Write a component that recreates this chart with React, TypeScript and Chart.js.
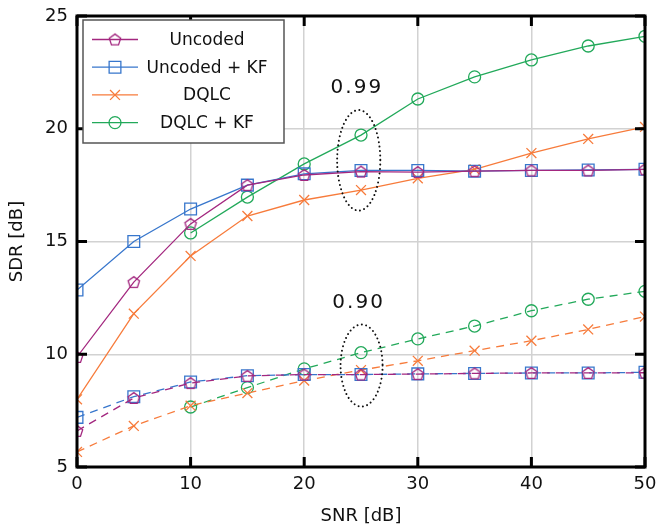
import { useEffect, useRef } from "react";
import { Chart, registerables } from "chart.js";

Chart.register(...registerables);

// ---- data ----
const SNR = [0, 5, 10, 15, 20, 25, 30, 35, 40, 45, 50];
const SERIES_LABELS = ["Uncoded", "Uncoded + KF", "DQLC", "DQLC + KF"];

// rho = 0.99 (solid)
const UNCODED_099 = [9.88, 13.2, 15.78, 17.5, 17.95, 18.1, 18.08, 18.12, 18.15, 18.15, 18.2];
const UNCODED_KF_099 = [12.85, 15.0, 16.44, 17.5, 18.0, 18.15, 18.15, 18.12, 18.15, 18.17, 18.2];
const DQLC_099 = [8.0, 11.8, 14.36, 16.13, 16.84, 17.28, 17.8, 18.2, 18.92, 19.55, 20.08];
const DQLC_KF_099 = [null, null, 15.38, 16.97, 18.44, 19.72, 21.32, 22.3, 23.05, 23.67, 24.1];

// rho = 0.90 (dashed)
const UNCODED_090 = [6.6, 8.06, 8.72, 9.04, 9.1, 9.1, 9.12, 9.15, 9.17, 9.17, 9.18];
const UNCODED_KF_090 = [7.2, 8.12, 8.77, 9.05, 9.1, 9.1, 9.13, 9.15, 9.17, 9.17, 9.2];
const DQLC_090 = [5.67, 6.82, 7.72, 8.28, 8.83, 9.3, 9.71, 10.16, 10.6, 11.1, 11.67];
const DQLC_KF_090 = [null, null, 7.66, 8.52, 9.35, 10.07, 10.68, 11.25, 11.93, 12.44, 12.79];

const X_TICKS = [0, 10, 20, 30, 40, 50];
const Y_TICKS = [5, 10, 15, 20, 25];

// annotation groups: ellipse centre / radii in data units, and label text
const GROUP_LABELS = ["0.99", "0.90"];
const GROUP_CX = [24.8, 25.05];
const GROUP_CY = [18.6, 9.5];
const GROUP_RX = [1.9, 1.85];
const GROUP_RY = [2.23, 1.82];
const GROUP_LABEL_X = [24.55, 24.7];
const GROUP_LABEL_Y = [21.8, 12.27];

// ---- styles ----
const COLORS = ["#A3277F", "#3776CC", "#F77B3B", "#22A95A"];
const STYLES = ["pentagon", "rect", "crossRot", "circle"];
const RADII = [6, 8.3, 7, 6];
const FONT = "'DejaVu Sans', sans-serif";
const TEXT = "#111";

function makePentagon(color: string): HTMLCanvasElement {
  const c = document.createElement("canvas");
  c.width = 16;
  c.height = 16;
  const g = c.getContext("2d")!;
  g.strokeStyle = color;
  g.lineWidth = 1.3;
  g.beginPath();
  for (let k = 0; k < 5; k++) {
    const a = -Math.PI / 2 + (k * 2 * Math.PI) / 5;
    const px = 8 + 6 * Math.cos(a);
    const py = 8.6 + 6 * Math.sin(a);
    if (k === 0) g.moveTo(px, py);
    else g.lineTo(px, py);
  }
  g.closePath();
  g.stroke();
  return c;
}

function drawMarker(ctx: CanvasRenderingContext2D, i: number, x: number, y: number, pent: HTMLCanvasElement) {
  ctx.save();
  ctx.strokeStyle = COLORS[i];
  ctx.lineWidth = 1.3;
  ctx.beginPath();
  const s = STYLES[i];
  const r = RADII[i];
  if (s === "pentagon") {
    ctx.drawImage(pent, x - 8, y - 8);
  } else if (s === "rect") {
    const h = r * Math.SQRT1_2;
    ctx.rect(x - h, y - h, 2 * h, 2 * h);
    ctx.stroke();
  } else if (s === "crossRot") {
    const h = r * Math.SQRT1_2;
    ctx.moveTo(x - h, y - h);
    ctx.lineTo(x + h, y + h);
    ctx.moveTo(x - h, y + h);
    ctx.lineTo(x + h, y - h);
    ctx.stroke();
  } else {
    ctx.arc(x, y, r, 0, Math.PI * 2);
    ctx.stroke();
  }
  ctx.restore();
}

export default function App() {
  const ref = useRef<HTMLCanvasElement>(null);

  useEffect(() => {
    const pent = makePentagon(COLORS[0]);
    const solid = [UNCODED_099, UNCODED_KF_099, DQLC_099, DQLC_KF_099];
    const dashed = [UNCODED_090, UNCODED_KF_090, DQLC_090, DQLC_KF_090];

    const mk = (vals: (number | null)[], i: number, dash: boolean) => ({
      label: SERIES_LABELS[i],
      data: SNR.map((x, k) => ({ x, y: vals[k] })),
      borderColor: COLORS[i],
      backgroundColor: "rgba(0,0,0,0)",
      borderWidth: 1.3,
      borderDash: dash ? [8, 6] : [],
      pointStyle: STYLES[i] === "pentagon" ? pent : STYLES[i],
      pointRadius: RADII[i],
      pointBorderWidth: 1.3,
      pointBorderColor: COLORS[i],
      pointBackgroundColor: "rgba(0,0,0,0)",
      tension: 0,
      fill: false,
    });

    const datasets: any[] = [];
    for (let i = 0; i < 4; i++) datasets.push(mk(solid[i], i, false));
    for (let i = 0; i < 4; i++) datasets.push(mk(dashed[i], i, true));

    const overlay = {
      id: "overlay",
      afterDatasetsDraw(chart: any) {
        const { ctx, scales } = chart;
        const xs = scales.x;
        const ys = scales.y;
        ctx.save();
        // dotted ellipses
        ctx.strokeStyle = "#111";
        ctx.lineWidth = 2;
        ctx.lineCap = "round";
        ctx.setLineDash([0.01, 4.4]);
        for (let g = 0; g < GROUP_LABELS.length; g++) {
          const cx = xs.getPixelForValue(GROUP_CX[g]);
          const cy = ys.getPixelForValue(GROUP_CY[g]);
          const rx = xs.getPixelForValue(GROUP_CX[g] + GROUP_RX[g]) - cx;
          const ry = cy - ys.getPixelForValue(GROUP_CY[g] + GROUP_RY[g]);
          ctx.beginPath();
          ctx.ellipse(cx, cy, rx, ry, 0, 0, Math.PI * 2);
          ctx.stroke();
        }
        ctx.setLineDash([]);
        // labels
        ctx.fillStyle = TEXT;
        ctx.font = `20px ${FONT}`;
        (ctx as any).letterSpacing = "2px";
        ctx.textAlign = "center";
        ctx.textBaseline = "middle";
        for (let g = 0; g < GROUP_LABELS.length; g++) {
          ctx.fillText(GROUP_LABELS[g], xs.getPixelForValue(GROUP_LABEL_X[g]) + 1, ys.getPixelForValue(GROUP_LABEL_Y[g]));
        }
        (ctx as any).letterSpacing = "0px";
        ctx.restore();
      },
      afterDraw(chart: any) {
        const { ctx, chartArea: a, scales } = chart;
        const xs = scales.x;
        const ys = scales.y;
        ctx.save();
        // frame
        ctx.strokeStyle = "#000";
        ctx.lineWidth = 3;
        ctx.lineCap = "butt";
        ctx.strokeRect(a.left, a.top, a.right - a.left, a.bottom - a.top);
        // inward ticks
        ctx.beginPath();
        const tl = 10;
        for (const v of X_TICKS) {
          const p = xs.getPixelForValue(v);
          ctx.moveTo(p, a.bottom);
          ctx.lineTo(p, a.bottom - tl);
          ctx.moveTo(p, a.top);
          ctx.lineTo(p, a.top + tl);
        }
        for (const v of Y_TICKS) {
          const p = ys.getPixelForValue(v);
          ctx.moveTo(a.left, p);
          ctx.lineTo(a.left + tl, p);
          ctx.moveTo(a.right, p);
          ctx.lineTo(a.right - tl, p);
        }
        ctx.stroke();

        // legend
        const lx = a.left + 6;
        const ly = a.top + 4;
        const lw = 201;
        const lh = 123;
        ctx.fillStyle = "#fff";
        ctx.fillRect(lx, ly, lw, lh);
        ctx.strokeStyle = "#555";
        ctx.lineWidth = 1.5;
        ctx.strokeRect(lx, ly, lw, lh);
        ctx.font = `17px ${FONT}`;
        ctx.textAlign = "center";
        ctx.textBaseline = "middle";
        for (let i = 0; i < 4; i++) {
          const y = ly + 19.5 + i * 27.7;
          ctx.strokeStyle = COLORS[i];
          ctx.lineWidth = 1.3;
          ctx.beginPath();
          ctx.moveTo(lx + 9, y);
          ctx.lineTo(lx + 55, y);
          ctx.stroke();
          drawMarker(ctx, i, lx + 32, y, pent);
          ctx.fillStyle = TEXT;
          ctx.fillText(SERIES_LABELS[i], lx + 124, y + 1);
        }
        ctx.restore();
      },
    };

    const tickFont = { family: FONT, size: 18 };
    const zeroPad = (s: any) => {
      s.paddingLeft = 0;
      s.paddingRight = 0;
      s.paddingTop = 0;
      s.paddingBottom = 0;
    };
    const chart = new Chart(ref.current!, {
      type: "line",
      data: { datasets },
      options: {
        animation: false,
        responsive: false,
        devicePixelRatio: 1,
        layout: { padding: { left: 0, right: 11, top: 16, bottom: 0 } },
        plugins: { legend: { display: false }, tooltip: { enabled: false } },
        scales: {
          x: {
            type: "linear",
            min: 0,
            max: 50,
            ticks: { stepSize: 10, font: tickFont, color: TEXT, padding: 7, maxRotation: 0 },
            grid: { color: "#d2d2d2", lineWidth: 1.5, drawTicks: false },
            border: { display: false },
            title: { display: true, text: "SNR [dB]", font: { family: FONT, size: 18 }, color: TEXT, padding: { top: 0, bottom: 0 } },
            afterFit: (s: any) => {
              s.height = 60;
              zeroPad(s);
            },
          },
          y: {
            type: "linear",
            min: 5,
            max: 25,
            ticks: { stepSize: 5, font: tickFont, color: TEXT, padding: 9 },
            grid: { color: "#d2d2d2", lineWidth: 1.5, drawTicks: false },
            border: { display: false },
            title: { display: true, text: "SDR [dB]", font: { family: FONT, size: 18 }, color: TEXT, padding: { top: 7, bottom: 0 } },
            afterFit: (s: any) => {
              s.width = 77;
              zeroPad(s);
            },
          },
        },
      },
      plugins: [overlay],
    } as any);
    return () => chart.destroy();
  }, []);

  return (
    <div style={{ position: "absolute", left: 0, top: 0, width: 656, height: 527, background: "#fff" }}>
      <canvas ref={ref} width={656} height={527} style={{ display: "block", width: 656, height: 527 }} />
    </div>
  );
}
